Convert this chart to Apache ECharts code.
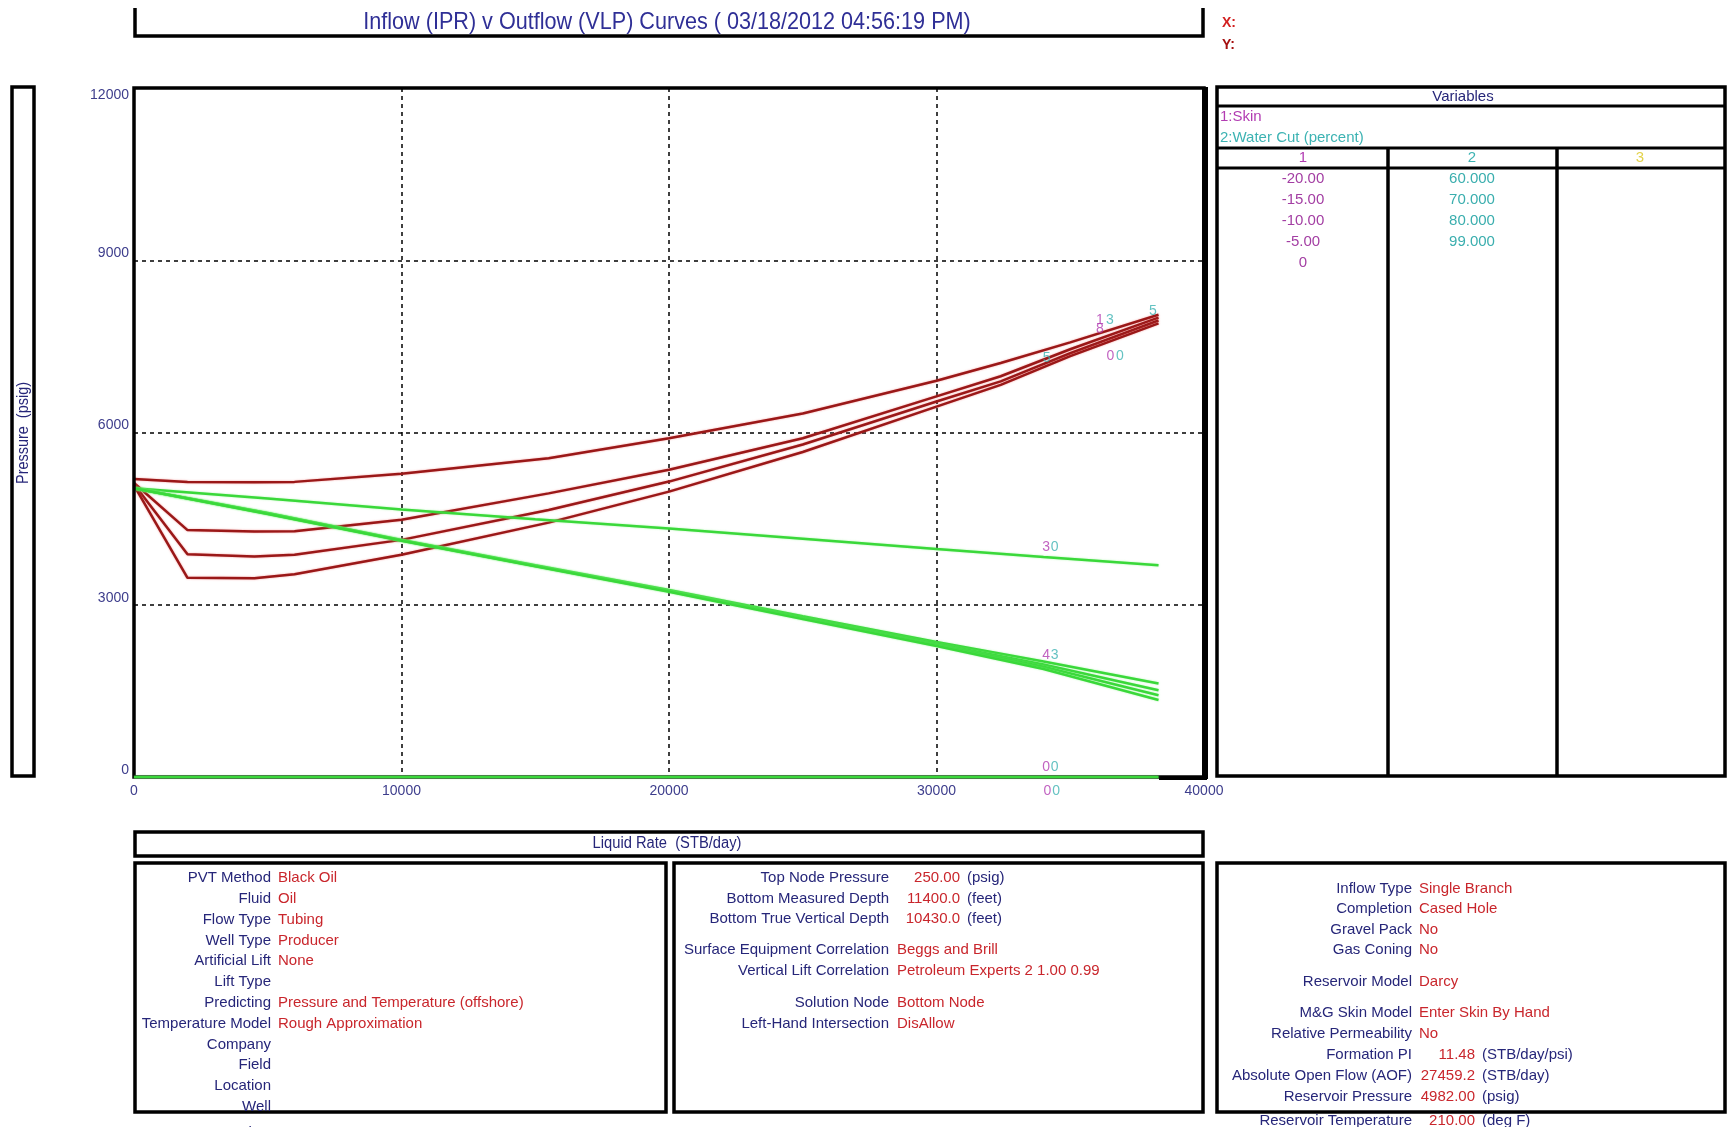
<!DOCTYPE html>
<html><head><meta charset="utf-8">
<script src="https://cdn.jsdelivr.net/npm/echarts@6/dist/echarts.min.js"></script>
<style>html,body{margin:0;padding:0;background:#fff;}#c{width:1730px;height:1127px;}</style>
</head><body><div id="c"></div>
<script>
// ---------------- DATA ----------------
const chartTitle = 'Inflow (IPR) v Outflow (VLP) Curves ( 03/18/2012 04:56:19 PM)';
const xAxisName = 'Liquid Rate  (STB/day)';
const yAxisName = 'Pressure  (psig)';
const xTickValues = [0, 10000, 20000, 30000, 40000];
const yTickValues = [0, 3000, 6000, 9000, 12000];

// VLP (outflow) curves
const vlpRates = [0, 2000, 4500, 6000, 10000, 15500, 20000, 25000, 30000, 32400, 35000, 38300];
const vlp1 = [5190, 5140, 5135, 5140, 5280, 5550, 5900, 6330, 6900, 7210, 7570, 8050];
const vlp2 = [5120, 4300, 4275, 4280, 4480, 4940, 5350, 5900, 6630, 6980, 7450, 8000];
const vlp3 = [5100, 3880, 3840, 3870, 4130, 4650, 5145, 5790, 6540, 6890, 7380, 7950];
const vlp4 = [5080, 3470, 3460, 3530, 3870, 4430, 4970, 5660, 6450, 6830, 7330, 7900];

// IPR (inflow) curves
const iprRates = [0, 5000, 10000, 15000, 20000, 25000, 30000, 34000, 38300];
const iprUpper = [5030, 4850, 4660, 4490, 4330, 4150, 3970, 3830, 3690];
const iprLowA  = [5030, 4600, 4130, 3690, 3256, 2800, 2350, 2010, 1630];
const iprLowB  = [5030, 4592, 4124, 3681, 3245, 2782, 2322, 1960, 1510];
const iprLowC  = [5030, 4586, 4119, 3674, 3235, 2766, 2300, 1920, 1425];
const iprLowD  = [5030, 4580, 4114, 3668, 3225, 2750, 2280, 1880, 1340];
const iprZero  = [0, 0, 0, 0, 0, 0, 0, 0, 0];

// curve tags (sensitivity index digits)
const tagRates     = [34100, 34420, 34100, 34420, 34100, 34420, 34150, 34470, 36110, 36110, 36480, 36500, 36860, 38090, 34120];
const tagPressures = [4010, 4010, 2120, 2120, 180, 180, -240, -240, 7960, 7800, 7960, 7330, 7330, 8120, 7300];
const tagTexts     = ['3', '0', '4', '3', '0', '0', '0', '0', '1', '8', '3', '0', '0', '5', '5'];
const tagVariable  = [1, 2, 1, 2, 1, 2, 1, 2, 1, 1, 2, 1, 2, 2, 2];

// Variables table
const variableNames = ['1:Skin', '2:Water Cut (percent)'];
const columnHeads = ['1', '2', '3'];
const skinValues = ['-20.00', '-15.00', '-10.00', '-5.00', '0'];
const waterCutValues = ['60.000', '70.000', '80.000', '99.000'];

// info panels
const wellLabels = ['PVT Method', 'Fluid', 'Flow Type', 'Well Type', 'Artificial Lift', 'Lift Type', 'Predicting', 'Temperature Model', 'Company', 'Field', 'Location', 'Well', 'Analyst'];
const wellValues = ['Black Oil', 'Oil', 'Tubing', 'Producer', 'None', '', 'Pressure and Temperature (offshore)', 'Rough Approximation', '', '', '', '', ''];
const tubingLabels = ['Top Node Pressure', 'Bottom Measured Depth', 'Bottom True Vertical Depth', 'Surface Equipment Correlation', 'Vertical Lift Correlation', 'Solution Node', 'Left-Hand Intersection'];
const tubingNumbers = ['250.00', '11400.0', '10430.0', '', '', '', ''];
const tubingUnits = ['(psig)', '(feet)', '(feet)', '', '', '', ''];
const tubingTexts = ['', '', '', 'Beggs and Brill', 'Petroleum Experts 2 1.00 0.99', 'Bottom Node', 'DisAllow'];
const resLabels = ['Inflow Type', 'Completion', 'Gravel Pack', 'Gas Coning', 'Reservoir Model', 'M&G Skin Model', 'Relative Permeability', 'Formation PI', 'Absolute Open Flow (AOF)', 'Reservoir Pressure', 'Reservoir Temperature'];
const resTexts = ['Single Branch', 'Cased Hole', 'No', 'No', 'Darcy', 'Enter Skin By Hand', 'No', '', '', '', ''];
const resNumbers = ['', '', '', '', '', '', '', '11.48', '27459.2', '4982.00', '210.00'];
const resUnits = ['', '', '', '', '', '', '', '(STB/day/psi)', '(STB/day)', '(psig)', '(deg F)'];

// ---------------- STYLE / LAYOUT ----------------
const FONT = "'Liberation Sans', Arial, sans-serif";
const NARROW = "'Liberation Sans Narrow', 'Arial Narrow', 'Liberation Sans', Arial, sans-serif";
const NAVY = '#262679';
const VALRED = '#c9262c';
const TICK = '#3d3d8c';
const VLP_COLOR = '#9a1818';
const IPR_COLOR = '#3ad83a';
const varColors = {1: '#b23cb2', 2: '#3db3b3'};

const G = {left: 134, top: 88, width: 1070, height: 689};

function zip(xs, ys) { return xs.map((x, i) => [x, ys[i]]); }
function lineSeries(name, xs, ys, color, z) {
  return {
    name, type: 'line', data: zip(xs, ys), showSymbol: false, symbol: 'none', z: z,
    lineStyle: {color: color, width: 2.5, shadowBlur: 2, shadowColor: color === VLP_COLOR ? 'rgba(235,90,90,0.6)' : 'rgba(120,240,120,0.6)'},
    animation: false, silent: true
  };
}
function txt(x, y, s, color, align, size, family, extra) {
  return Object.assign({
    type: 'text', x: x, y: y, z: 50, silent: true,
    style: {text: s, fill: color, font: (size || 15) + 'px ' + (family || FONT),
      align: align || 'left', verticalAlign: 'middle', textAlign: align || 'left', textVerticalAlign: 'middle'}
  }, extra || {});
}
function box(x, y, w, h, lw) {
  return {type: 'rect', z: 40, silent: true, shape: {x: x, y: y, width: w, height: h},
    style: {fill: 'none', stroke: '#000', lineWidth: lw || 3.5}};
}
function hline(x1, x2, y, lw) {
  return {type: 'line', z: 40, silent: true, shape: {x1: x1, y1: y, x2: x2, y2: y}, style: {stroke: '#000', lineWidth: lw || 3}};
}
function vline(x, y1, y2, lw) {
  return {type: 'line', z: 40, silent: true, shape: {x1: x, y1: y1, x2: x, y2: y2}, style: {stroke: '#000', lineWidth: lw || 3}};
}

const graphics = [];
// title box (open at top)
graphics.push({type: 'polyline', z: 40, silent: true, shape: {points: [[135, 8], [135, 36], [1203, 36], [1203, 8]]}, style: {stroke: '#000', lineWidth: 3.5, fill: 'none'}});
graphics.push(txt(667, 22, chartTitle, '#2f2f96', 'center', 24, NARROW, {scaleX: 0.9}));
graphics.push(txt(1222, 23, 'X:', '#d22020', 'left', 14, FONT, {style: {text: 'X:', fill: '#d22020', font: 'bold 14px ' + FONT, align: 'left', verticalAlign: 'middle'}}));
graphics.push(txt(1222, 45, 'Y:', '#a51010', 'left', 14, FONT, {style: {text: 'Y:', fill: '#a51010', font: 'bold 14px ' + FONT, align: 'left', verticalAlign: 'middle'}}));

// y-axis name box
graphics.push(box(12, 87, 22, 689, 3.5));
graphics.push(txt(23, 433, yAxisName, NAVY, 'center', 17, NARROW, {rotation: Math.PI / 2, scaleX: 0.85}));

// plot border
graphics.push(box(G.left, G.top, G.width, G.height, 3.5));
graphics.push(vline(G.left + G.width + 1, G.top - 1, G.top + G.height + 2, 6));
graphics.push(hline(G.left + G.width - 45, G.left + G.width + 3, G.top + G.height + 1, 4));

// x-axis name box
graphics.push(box(135, 832, 1068, 24, 3.5));
graphics.push(txt(667, 844, xAxisName, NAVY, 'center', 16, NARROW, {scaleX: 0.92}));

// Variables panel
const VX = 1217, VR = 1725;
graphics.push(box(VX, 87, VR - VX, 689, 3.5));
graphics.push(hline(VX, VR, 106, 3));
graphics.push(hline(VX, VR, 148, 3));
graphics.push(hline(VX, VR, 168, 3));
graphics.push(vline(1388, 148, 776, 3.5));
graphics.push(vline(1557, 148, 776, 3.5));
graphics.push(txt(1463, 97, 'Variables', NAVY, 'center', 15));
graphics.push(txt(1220, 117, variableNames[0], varColors[1], 'left', 15));
graphics.push(txt(1220, 138, variableNames[1], varColors[2], 'left', 15));
const colCenters = [1303, 1472, 1640];
const headColors = [varColors[1], varColors[2], '#e3d24a'];
columnHeads.forEach((h, i) => graphics.push(txt(colCenters[i], 158, h, headColors[i], 'center', 15)));
const rowY = [179, 200, 221, 242, 263];
skinValues.forEach((v, i) => graphics.push(txt(colCenters[0], rowY[i], v, '#a33ea3', 'center', 15)));
waterCutValues.forEach((v, i) => graphics.push(txt(colCenters[1], rowY[i], v, '#3aaeae', 'center', 15)));

// Panel 1 (well)
graphics.push(box(135, 863, 531, 249, 3.5));
wellLabels.forEach((l, i) => {
  const y = i === 12 ? 1133 : 878 + i * 20.8;
  graphics.push(txt(271, y, l, NAVY, 'right', 15));
  if (wellValues[i]) graphics.push(txt(278, y, wellValues[i], VALRED, 'left', 15));
});
// Panel 2 (tubing)
graphics.push(box(674, 863, 529, 249, 3.5));
const p2Y = [878, 899, 919, 950, 971, 1003, 1024];
tubingLabels.forEach((l, i) => {
  const y = p2Y[i];
  graphics.push(txt(889, y, l, NAVY, 'right', 15));
  if (tubingNumbers[i]) graphics.push(txt(960, y, tubingNumbers[i], VALRED, 'right', 15));
  if (tubingUnits[i]) graphics.push(txt(967, y, tubingUnits[i], NAVY, 'left', 15));
  if (tubingTexts[i]) graphics.push(txt(897, y, tubingTexts[i], VALRED, 'left', 15));
});
// Panel 3 (reservoir)
graphics.push(box(1217, 863, 508, 249, 3.5));
const p3Y = [889, 909, 930, 950, 982, 1013, 1034, 1055, 1076, 1097, 1121];
resLabels.forEach((l, i) => {
  const y = p3Y[i];
  graphics.push(txt(1412, y, l, NAVY, 'right', 15, FONT, i === 10 ? {z: 30} : null));
  if (resTexts[i]) graphics.push(txt(1419, y, resTexts[i], VALRED, 'left', 15));
  if (resNumbers[i]) graphics.push(txt(1475, y, resNumbers[i], VALRED, 'right', 15, FONT, i === 10 ? {z: 30} : null));
  if (resUnits[i]) graphics.push(txt(1482, y, resUnits[i], NAVY, 'left', 15, FONT, i === 10 ? {z: 30} : null));
});

// tags
const tagData = tagRates.map((x, i) => ({
  value: [x, tagPressures[i], tagTexts[i]],
  label: {color: varColors[tagVariable[i]]}
}));

const series = [
  lineSeries('VLP 1', vlpRates, vlp1, VLP_COLOR, 3),
  lineSeries('VLP 2', vlpRates, vlp2, VLP_COLOR, 3),
  lineSeries('VLP 3', vlpRates, vlp3, VLP_COLOR, 3),
  lineSeries('VLP 4', vlpRates, vlp4, VLP_COLOR, 3),
  lineSeries('IPR upper', iprRates, iprUpper, IPR_COLOR, 4),
  lineSeries('IPR A', iprRates, iprLowA, IPR_COLOR, 4),
  lineSeries('IPR B', iprRates, iprLowB, IPR_COLOR, 4),
  lineSeries('IPR C', iprRates, iprLowC, IPR_COLOR, 4),
  lineSeries('IPR D', iprRates, iprLowD, IPR_COLOR, 4),
  Object.assign(lineSeries('IPR zero', iprRates, iprZero, IPR_COLOR, 45), {clip: false}),
  {
    type: 'scatter', data: tagData, symbolSize: 1, itemStyle: {color: 'rgba(0,0,0,0)'}, clip: false, z: 46,
    silent: true, animation: false,
    label: {show: true, position: 'inside', formatter: p => p.value[2], fontSize: 14, fontFamily: FONT}
  }
];

const yMax = yTickValues[yTickValues.length - 1];
const chart = echarts.init(document.getElementById('c'), null, {renderer: 'canvas'});
chart.setOption({
  backgroundColor: '#ffffff',
  animation: false,
  grid: {left: G.left, top: G.top, width: G.width, height: G.height, containLabel: false},
  xAxis: {
    type: 'value', min: xTickValues[0], max: xTickValues[xTickValues.length - 1], interval: 10000,
    axisLine: {show: false}, axisTick: {show: false},
    splitLine: {show: true, lineStyle: {color: '#000', type: [4, 4], width: 1.5}},
    axisLabel: {color: TICK, fontSize: 14, fontFamily: NARROW, margin: 7, formatter: v => String(v)}
  },
  yAxis: {
    type: 'value', min: yTickValues[0], max: yMax, interval: 3000,
    axisLine: {show: false}, axisTick: {show: false},
    splitLine: {show: true, lineStyle: {color: '#000', type: [4, 4], width: 1.5}},
    axisLabel: {
      color: TICK, fontSize: 14, fontFamily: NARROW, margin: 5, verticalAlign: 'middle',
      formatter: v => (v === yMax ? '{lo|' + v + '}' : '{hi|' + v + '}'),
      rich: {
        hi: {color: TICK, fontSize: 14, fontFamily: NARROW, lineHeight: 28, verticalAlign: 'top'},
        lo: {color: TICK, fontSize: 14, fontFamily: NARROW, lineHeight: 28, verticalAlign: 'bottom'}
      }
    }
  },
  series: series,
  graphic: graphics
});
</script>
</body></html>
